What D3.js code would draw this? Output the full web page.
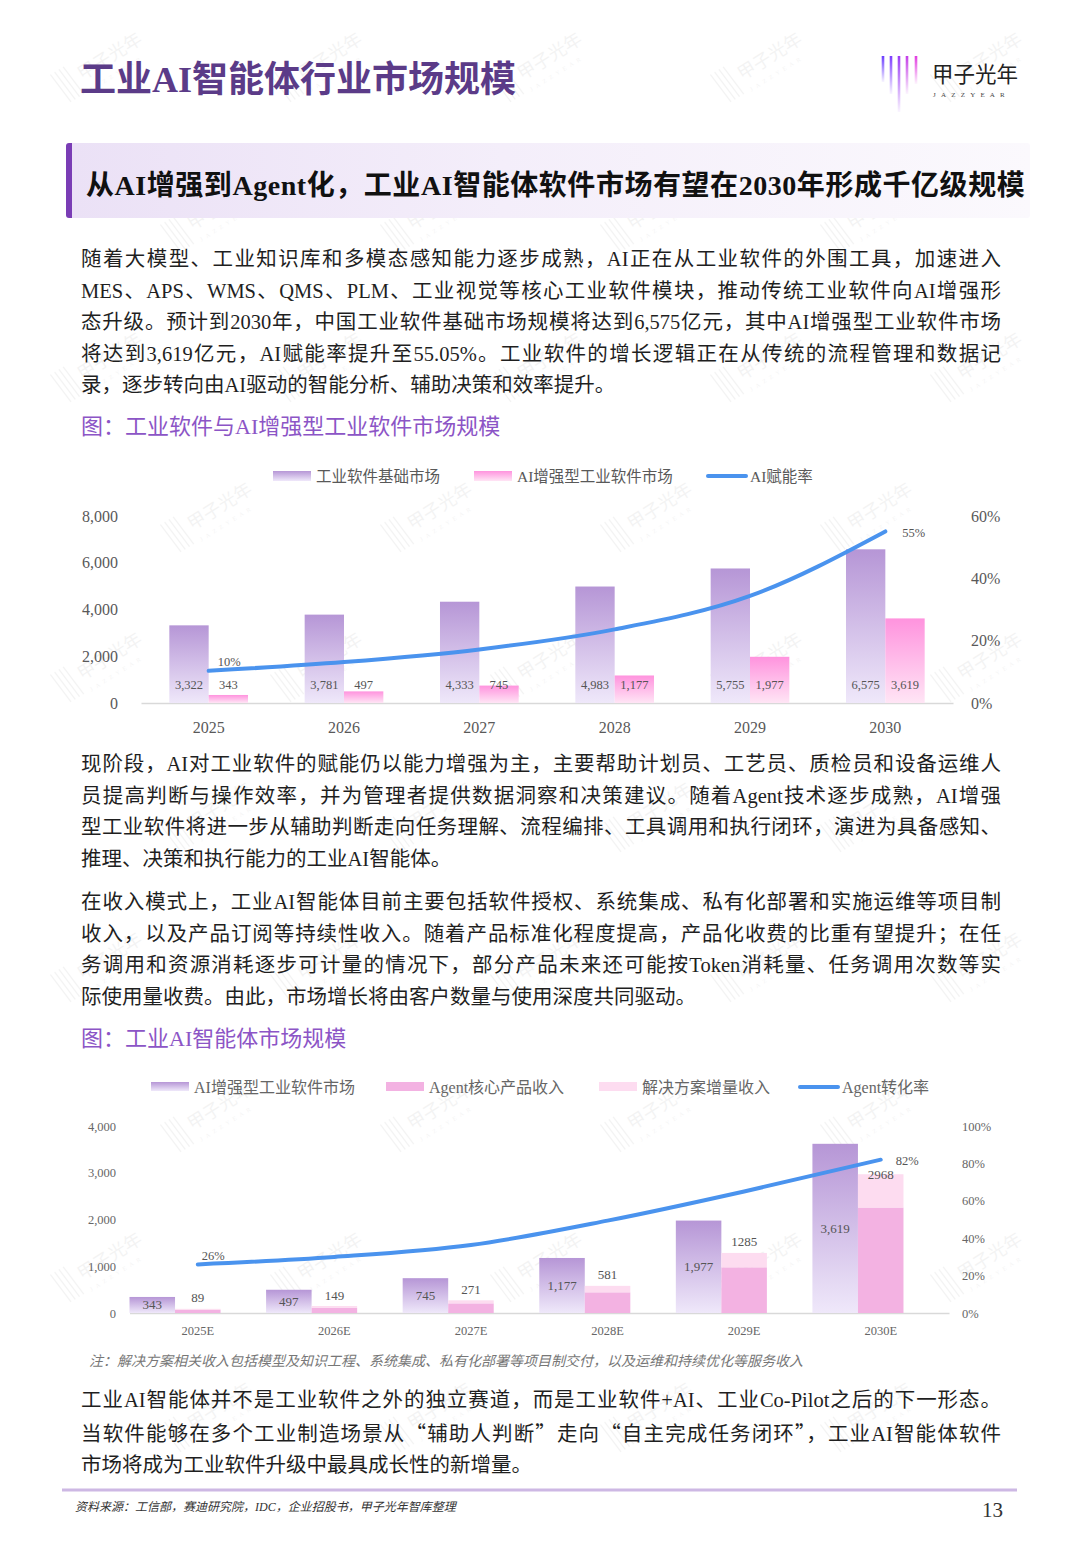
<!DOCTYPE html>
<html><head><meta charset="utf-8">
<script src="https://cdn.jsdelivr.net/npm/d3@7"></script>
<style>
html,body{margin:0;padding:0;background:#fff;}
#page{position:relative;width:1080px;height:1560px;overflow:hidden;background:#fff;font-family:"Liberation Serif","Noto Sans CJK SC",serif;}
#wm,#charts{position:absolute;left:0;top:0;}
#wm{z-index:0;} #charts{z-index:2;}
.txt{position:absolute;z-index:1;}
.para{left:81px;width:920px;font-size:20.5px;line-height:31.5px;color:#1f1f1f;}
.para div{text-align:justify;text-align-last:justify;}
.para div.last{text-align:left;text-align-last:left;}
.cjk{font-family:"Noto Sans CJK SC";}
.title{left:80px;top:58px;font-size:36px;line-height:44px;font-weight:bold;color:#5b3b88;}
.hbox{left:66px;top:143px;width:958px;height:75px;background:linear-gradient(90deg,#ebe1f6 0%,#f4eefa 45%,#fbf9fd 100%);border-left:6px solid #7a3db5;border-radius:3px;}
.htext{left:86px;top:166px;font-size:28px;line-height:40px;font-weight:bold;color:#111;white-space:nowrap;letter-spacing:0.55px;}
.cap{left:81px;font-size:22px;line-height:31.5px;color:#8c55c6;white-space:nowrap;}
.note{left:89px;top:1352px;font-size:14px;line-height:20px;color:#777;font-style:italic;white-space:nowrap;}
.src{left:75px;top:1499px;font-size:12px;line-height:16px;color:#333;font-style:italic;white-space:nowrap;}
.pno{left:960px;width:43px;text-align:right;top:1497px;font-size:21px;line-height:26px;color:#333;}
</style></head>
<body>
<div id="page">
<svg id="wm" width="1080" height="1560"></svg>
<div class="txt title">工业AI智能体行业市场规模</div>
<div class="txt hbox"></div>
<div class="txt htext">从AI增强到Agent化，工业AI智能体软件市场有望在2030年形成千亿级规模</div>
<div class="txt para" style="top:244px">
<div>随着大模型、工业知识库和多模态感知能力逐步成熟，AI正在从工业软件的外围工具，加速进入</div>
<div>MES、APS、WMS、QMS、PLM、工业视觉等核心工业软件模块，推动传统工业软件向AI增强形</div>
<div>态升级。预计到2030年，中国工业软件基础市场规模将达到6,575亿元，其中AI增强型工业软件市场</div>
<div>将达到3,619亿元，AI赋能率提升至55.05%。工业软件的增长逻辑正在从传统的流程管理和数据记</div>
<div class="last">录，逐步转向由AI驱动的智能分析、辅助决策和效率提升。</div>
</div>
<div class="txt cap" style="top:411px">图：工业软件与AI增强型工业软件市场规模</div>
<div class="txt para" style="top:749px">
<div>现阶段，AI对工业软件的赋能仍以能力增强为主，主要帮助计划员、工艺员、质检员和设备运维人</div>
<div>员提高判断与操作效率，并为管理者提供数据洞察和决策建议。随着Agent技术逐步成熟，AI增强</div>
<div>型工业软件将进一步从辅助判断走向任务理解、流程编排、工具调用和执行闭环，演进为具备感知、</div>
<div class="last">推理、决策和执行能力的工业AI智能体。</div>
</div>
<div class="txt para" style="top:887px">
<div>在收入模式上，工业AI智能体目前主要包括软件授权、系统集成、私有化部署和实施运维等项目制</div>
<div>收入，以及产品订阅等持续性收入。随着产品标准化程度提高，产品化收费的比重有望提升；在任</div>
<div>务调用和资源消耗逐步可计量的情况下，部分产品未来还可能按Token消耗量、任务调用次数等实</div>
<div class="last">际使用量收费。由此，市场增长将由客户数量与使用深度共同驱动。</div>
</div>
<div class="txt cap" style="top:1023px">图：工业AI智能体市场规模</div>
<div class="txt note">注：解决方案相关收入包括模型及知识工程、系统集成、私有化部署等项目制交付，以及运维和持续优化等服务收入</div>
<div class="txt para" style="top:1385px">
<div>工业AI智能体并不是工业软件之外的独立赛道，而是工业软件+AI、工业Co-Pilot之后的下一形态。</div>
<div>当软件能够在多个工业制造场景从<span class="cjk">“</span>辅助人判断<span class="cjk">”</span>走向<span class="cjk">“</span>自主完成任务闭环<span class="cjk">”</span>，工业AI智能体软件</div>
<div class="last">市场将成为工业软件升级中最具成长性的新增量。</div>
</div>
<div class="txt src">资料来源：工信部，赛迪研究院，IDC，企业招股书，甲子光年智库整理</div>
<div class="txt pno">13</div>
<svg id="charts" width="1080" height="1560"></svg>
</div>
<script>
// ---------------- DATA ----------------
const years1 = ['2025','2026','2027','2028','2029','2030'];
const baseMarket = [3322,3781,4333,4983,5755,6575];
const aiMarket = [343,497,745,1177,1977,3619];
const aiRate = [0.1033,0.1314,0.1719,0.2362,0.3435,0.5505];
const aiRateLabels = ['10%','','','','','55%'];
const leftTicks1 = [0,2000,4000,6000,8000];
const rightTicks1 = [0,0.2,0.4,0.6];
const legend1 = ['工业软件基础市场','AI增强型工业软件市场','AI赋能率'];

const years2 = ['2025E','2026E','2027E','2028E','2029E','2030E'];
const aiMarket2 = [343,497,745,1177,1977,3619];
const agentCore = [68,113,206,442,977,2256];
const solutionIncr = [21,36,65,139,308,712];
const agentRate = [0.26,0.30,0.364,0.494,0.65,0.82];
const agentRateLabels = ['26%','','','','','82%'];
const leftTicks2 = [0,1000,2000,3000,4000];
const rightTicks2 = [0,0.2,0.4,0.6,0.8,1.0];
const legend2 = ['AI增强型工业软件市场','Agent核心产品收入','解决方案增量收入','Agent转化率'];

// ---------------- STYLE ----------------
const FONT = '"Liberation Serif","Noto Sans CJK SC",serif';
const BLUE = '#4a93ee';
const svg = d3.select('#charts');
const defs = svg.append('defs');
function vgrad(id, top, bottom){
  const g = defs.append('linearGradient').attr('id',id).attr('x1',0).attr('y1',0).attr('x2',0).attr('y2',1);
  g.append('stop').attr('offset','0%').attr('stop-color',top);
  g.append('stop').attr('offset','100%').attr('stop-color',bottom);
}
vgrad('gPurple','#b696d6','#efe8fa');
vgrad('gPink','#ff93de','#ffe5f5');

// ---------------- WATERMARK (kept inside the page) ----------------
const wm = d3.select('#wm');
for(let r=0;r<10;r++){
  for(let c=0;c<5;c++){
    const wx = 60 + c*220 + (r%2)*110, wy = 90 + r*150;
    if(wx > 960 || wy > 1480) continue;
    const g = wm.append('g').attr('transform',`translate(${wx},${wy}) rotate(-32)`).attr('opacity',0.045);
    [0,5,10,15].forEach(dx=>g.append('line').attr('x1',dx).attr('x2',dx+3).attr('y1',-18).attr('y2',16).attr('stroke','#000').attr('stroke-width',1.2));
    g.append('text').attr('x',24).attr('y',4).attr('font-size',18).attr('font-family','"Noto Sans CJK SC"').text('甲子光年');
    g.append('text').attr('x',26).attr('y',18).attr('font-size',6).attr('letter-spacing',4).attr('font-family',FONT).text('JAZZYEAR');
  }
}

// ---------------- LOGO ----------------
const logo = svg.append('g');
const logoLines = [[883,82,'#6a3cff'],[891,94,'#7d3cff'],[899,112,'#9a3cf5'],[907,94,'#c43ce8'],[916,84,'#e13be0']];
logoLines.forEach(([lx,ly,col],i)=>{
  const id='lg'+i;
  const gg = defs.append('linearGradient').attr('id',id).attr('x1',0).attr('y1',0).attr('x2',0).attr('y2',1);
  gg.append('stop').attr('offset','0%').attr('stop-color',col);
  gg.append('stop').attr('offset','100%').attr('stop-color',col).attr('stop-opacity',0.05);
  logo.append('rect').attr('x',lx-1.3).attr('y',56).attr('width',2.6).attr('height',ly-56).attr('fill',`url(#${id})`);
});
logo.append('text').attr('x',932).attr('y',82).attr('font-size',21.5).attr('font-family','"Noto Sans CJK SC"').attr('fill','#222').text('甲子光年');
logo.append('text').attr('x',933).attr('y',97).attr('font-size',7).attr('letter-spacing',5.2).attr('font-family',FONT).attr('fill','#444').text('JAZZYEAR');

// footer line
svg.append('line').attr('x1',62).attr('x2',1017).attr('y1',1490).attr('y2',1490).attr('stroke','#cdb8e4').attr('stroke-width',3);

const fmt = d3.format(',');

// ---------------- CHART 1 ----------------
const c1 = svg.append('g').attr('font-family',FONT);
const x1 = d3.scaleBand().domain(years1).range([141,953]).padding(0);
const xs1 = d3.scaleBand().domain(['base','ai']).range([0,x1.bandwidth()]).paddingInner(0).paddingOuter(0.72);
const y1 = d3.scaleLinear().domain([0,8000]).range([703,516]);
const r1 = d3.scaleLinear().domain([0,0.6]).range([703,516]);

c1.append('g').attr('transform','translate(118,0)')
  .call(d3.axisLeft(y1).tickValues(leftTicks1).tickSize(0).tickPadding(0).tickFormat(d3.format(',')))
  .call(g=>{g.select('.domain').remove(); g.attr('font-family',FONT).attr('font-size',16); g.selectAll('text').attr('fill','#595959');});
c1.append('g').attr('transform','translate(971,0)')
  .call(d3.axisRight(r1).tickValues(rightTicks1).tickSize(0).tickPadding(0).tickFormat(d3.format('.0%')))
  .call(g=>{g.select('.domain').remove(); g.attr('font-family',FONT).attr('font-size',16); g.selectAll('text').attr('fill','#595959');});
c1.append('g').attr('transform','translate(0,703)')
  .call(d3.axisBottom(x1).tickSize(0).tickSizeOuter(0).tickPadding(19))
  .call(g=>{g.select('.domain').attr('stroke','#d9d9d9').attr('stroke-width',1.5); g.attr('font-family',FONT).attr('font-size',16); g.selectAll('text').attr('fill','#595959');});

const d1 = years1.map((y,i)=>({year:y, base:baseMarket[i], ai:aiMarket[i], rate:aiRate[i], lab:aiRateLabels[i]}));
const g1 = c1.selectAll('.grp1').data(d1).join('g').attr('class','grp1').attr('transform',d=>`translate(${x1(d.year)},0)`);
g1.append('rect').attr('x',xs1('base')).attr('width',xs1.bandwidth()).attr('y',d=>y1(d.base)).attr('height',d=>y1(0)-y1(d.base)).attr('fill','url(#gPurple)');
g1.append('rect').attr('x',xs1('ai')).attr('width',xs1.bandwidth()).attr('y',d=>y1(d.ai)).attr('height',d=>y1(0)-y1(d.ai)).attr('fill','url(#gPink)');
g1.append('text').attr('x',xs1('base')+xs1.bandwidth()/2).attr('y',y1(0)-14.5).attr('text-anchor','middle').attr('font-size',12.5).attr('fill','#555').text(d=>fmt(d.base));
g1.append('text').attr('x',xs1('ai')+xs1.bandwidth()/2).attr('y',y1(0)-14.5).attr('text-anchor','middle').attr('font-size',12.5).attr('fill','#555').text(d=>fmt(d.ai));

const line1 = d3.line().x(d=>x1(d.year)+x1.bandwidth()/2).y(d=>r1(d.rate)).curve(d3.curveMonotoneX);
c1.append('path').datum(d1).attr('d',line1).attr('fill','none').attr('stroke',BLUE).attr('stroke-width',4).attr('stroke-linecap','round');
c1.selectAll('.rl1').data(d1.filter(d=>d.lab)).join('text').attr('class','rl1')
  .attr('x',(d,i)=>x1(d.year)+x1.bandwidth()/2+(i===0?9:17))
  .attr('y',(d,i)=>r1(d.rate)+(i===0?-5:6))
  .attr('font-size',12.5).attr('fill','#555').text(d=>d.lab);

// legend 1
const lg1 = c1.append('g').attr('font-size',15.5).attr('fill','#595959');
const lg1x = [273,474,706];
lg1.append('rect').attr('x',lg1x[0]).attr('y',471).attr('width',38).attr('height',10).attr('fill','url(#gPurple)');
lg1.append('rect').attr('x',lg1x[1]).attr('y',471).attr('width',38).attr('height',10).attr('fill','url(#gPink)');
lg1.append('line').attr('x1',lg1x[2]+2).attr('x2',lg1x[2]+40).attr('y1',476).attr('y2',476).attr('stroke',BLUE).attr('stroke-width',4).attr('stroke-linecap','round');
legend1.forEach((t,i)=>lg1.append('text').attr('x',lg1x[i]+(i===2?44:43)).attr('y',481.5).text(t));

// ---------------- CHART 2 ----------------
const c2 = svg.append('g').attr('font-family',FONT);
const x2 = d3.scaleBand().domain(years2).range([129.5,949]).padding(0);
const xs2 = d3.scaleBand().domain(['ai','agent','gap']).range([0,x2.bandwidth()]).padding(0);
const y2 = d3.scaleLinear().domain([0,4000]).range([1313,1126]);
const r2 = d3.scaleLinear().domain([0,1]).range([1313,1126]);

c2.append('g').attr('transform','translate(116,0)')
  .call(d3.axisLeft(y2).tickValues(leftTicks2).tickSize(0).tickPadding(0).tickFormat(d3.format(',')))
  .call(g=>{g.select('.domain').remove(); g.attr('font-family',FONT).attr('font-size',12.5); g.selectAll('text').attr('fill','#666');});
c2.append('g').attr('transform','translate(962,0)')
  .call(d3.axisRight(r2).tickValues(rightTicks2).tickSize(0).tickPadding(0).tickFormat(d3.format('.0%')))
  .call(g=>{g.select('.domain').remove(); g.attr('font-family',FONT).attr('font-size',12.5); g.selectAll('text').attr('fill','#666');});
c2.append('g').attr('transform','translate(0,1313)')
  .call(d3.axisBottom(x2).tickSize(0).tickSizeOuter(0).tickPadding(13.5))
  .call(g=>{g.select('.domain').attr('stroke','#d9d9d9').attr('stroke-width',1.5); g.attr('font-family',FONT).attr('font-size',12.5); g.selectAll('text').attr('fill','#666');});

const d2 = years2.map((y,i)=>({year:y, ai:aiMarket2[i], core:agentCore[i], sol:solutionIncr[i], rate:agentRate[i], lab:agentRateLabels[i]}));
const stack = d3.stack().keys(['core','sol'])(d2);
const stackFill = {core:'#f3b2e2', sol:'#fddcf0'};
const barsLayer = c2.append('g');
const labelLayer = c2.append('g');
barsLayer.selectAll('.aibar').data(d2).join('rect').attr('class','aibar')
  .attr('x',d=>x2(d.year)+xs2('ai')).attr('width',xs2.bandwidth())
  .attr('y',d=>y2(d.ai)).attr('height',d=>y2(0)-y2(d.ai)).attr('fill','url(#gPurple)');
stack.forEach(layer=>{
  barsLayer.selectAll('.st-'+layer.key).data(layer).join('rect').attr('class','st-'+layer.key)
    .attr('x',(d,i)=>x2(years2[i])+xs2('agent')).attr('width',xs2.bandwidth())
    .attr('y',d=>y2(d[1])).attr('height',d=>y2(d[0])-y2(d[1])).attr('fill',stackFill[layer.key]);
});
labelLayer.selectAll('.ailab').data(d2).join('text').attr('class','ailab')
  .attr('x',d=>x2(d.year)+xs2('ai')+xs2.bandwidth()/2).attr('y',d=>(y2(d.ai)+y2(0))/2+4.5)
  .attr('text-anchor','middle').attr('font-size',13).attr('fill','#555').text(d=>fmt(d.ai));

const line2 = d3.line().x(d=>x2(d.year)+x2.bandwidth()/2).y(d=>r2(d.rate)).curve(d3.curveMonotoneX);
c2.append('path').datum(d2).attr('d',line2).attr('fill','none').attr('stroke',BLUE).attr('stroke-width',4).attr('stroke-linecap','round');

const topLayer = c2.append('g');
topLayer.selectAll('.aglab').data(d2).join('text').attr('class','aglab')
  .attr('x',d=>x2(d.year)+xs2('agent')+xs2.bandwidth()/2)
  .attr('y',(d,i)=>y2(d.core+d.sol)+(i===d2.length-1?4.5:-6.5))
  .attr('text-anchor','middle').attr('font-size',13).attr('fill','#555').text(d=>d.core+d.sol);
topLayer.selectAll('.rl2').data(d2.filter(d=>d.lab)).join('text').attr('class','rl2')
  .attr('x',(d,i)=>x2(d.year)+x2.bandwidth()/2+(i===0?4:15))
  .attr('y',(d,i)=>r2(d.rate)+(i===0?-4:5))
  .attr('font-size',12.5).attr('fill','#555').text(d=>d.lab);

// legend 2
const lg2 = c2.append('g').attr('font-size',16).attr('fill','#666');
const lg2x = [151,386,599,798];
lg2.append('rect').attr('x',lg2x[0]).attr('y',1082).attr('width',38).attr('height',9).attr('fill','url(#gPurple)');
lg2.append('rect').attr('x',lg2x[1]).attr('y',1082).attr('width',38).attr('height',9).attr('fill',stackFill.core);
lg2.append('rect').attr('x',lg2x[2]).attr('y',1082).attr('width',38).attr('height',9).attr('fill',stackFill.sol);
lg2.append('line').attr('x1',lg2x[3]+2).attr('x2',lg2x[3]+40).attr('y1',1087).attr('y2',1087).attr('stroke',BLUE).attr('stroke-width',4).attr('stroke-linecap','round');
legend2.forEach((t,i)=>lg2.append('text').attr('x',lg2x[i]+(i===3?44:43)).attr('y',1092.5).text(t));
</script>
</body></html>
